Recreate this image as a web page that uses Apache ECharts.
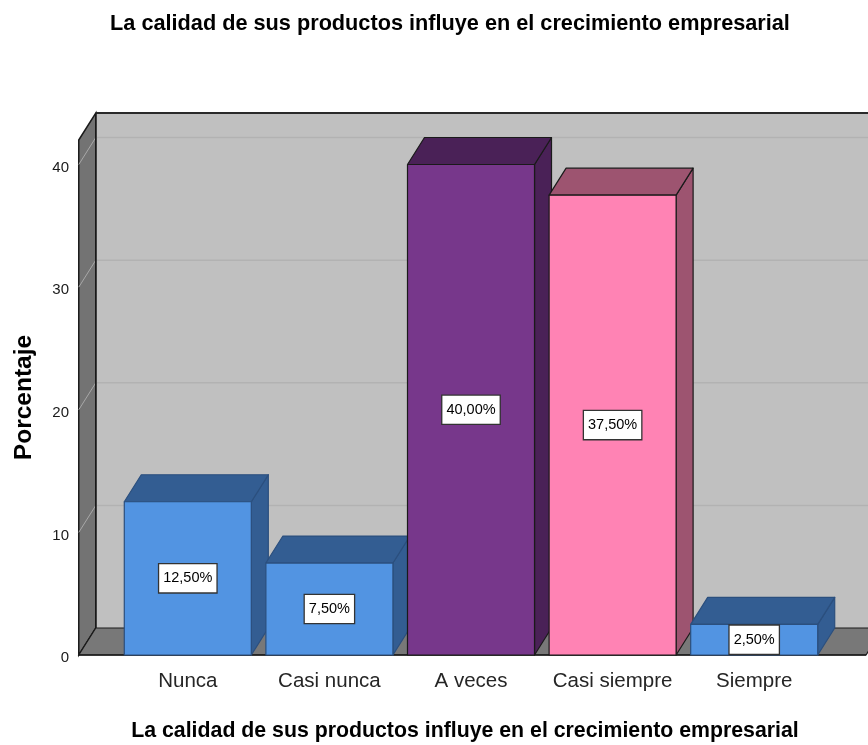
<!DOCTYPE html>
<html>
<head>
<meta charset="utf-8">
<title>La calidad de sus productos influye en el crecimiento empresarial</title>
<script src="https://cdn.jsdelivr.net/npm/echarts@6/dist/echarts.min.js"></script>
<style>
  html, body { margin: 0; padding: 0; background: #fff; }
  #chart { width: 868px; height: 745px; }
</style>
</head>
<body>
<div id="chart"></div>
<script>
// Response categories and the share of answers for each one (%)
const categories = ['Nunca', 'Casi nunca', 'A veces', 'Casi siempre', 'Siempre'];
const percentages = [12.5, 7.5, 40.0, 37.5, 2.5];
const yTickStep = 10;
const yMax = 42;

const chartTitle = 'La calidad de sus productos influye en el crecimiento empresarial';
const xAxisTitle = 'La calidad de sus productos influye en el crecimiento empresarial';
const yAxisTitle = 'Porcentaje';

// Face colours for each bar: front, top/side, outline
const barColors = [
  { front: '#5294e2', shade: '#335d92', edge: '#2b4f7e' },
  { front: '#5294e2', shade: '#335d92', edge: '#2b4f7e' },
  { front: '#77378b', shade: '#4a2157', edge: '#1a1a1a' },
  { front: '#ff83b4', shade: '#9d5470', edge: '#1a1a1a' },
  { front: '#5294e2', shade: '#335d92', edge: '#2b4f7e' }
];

// Pseudo-3D depth offset (pixels) of the back plane relative to the front plane
const DEPTH_X = 17;
const DEPTH_Y = -27;
const BAR_FRACTION = 0.897;   // bar width as part of the category band
const PAD_LEFT = 0.77;        // front plane extends this many bands left of the first centre
const PAD_RIGHT = 0.79;       // and this many bands right of the last centre

const FONT = "'Liberation Sans', Arial, Helvetica, sans-serif";

function fmtPercent(v) {
  return v.toFixed(2).replace('.', ',') + '%';
}

const chart = echarts.init(document.getElementById('chart'), null, { renderer: 'canvas' });

// Walls, floor and gridlines of the 3D frame
function renderFrame(params, api) {
  const band = api.size([1, 0])[0];
  const n = categories.length;
  const x0 = api.coord([0, 0])[0] - band * PAD_LEFT;
  const x1 = api.coord([n - 1, 0])[0] + band * PAD_RIGHT;
  const yBase = api.coord([0, 0])[1];
  const yTop = api.coord([0, yMax])[1];
  const bx0 = x0 + DEPTH_X, bx1 = x1 + DEPTH_X + 40;
  const children = [];

  // back wall
  children.push({
    type: 'rect',
    shape: { x: bx0, y: yTop + DEPTH_Y, width: bx1 - bx0, height: yBase - yTop },
    style: { fill: '#c0c0c0' }
  });
  // gridlines on back and left walls
  for (let v = yTickStep; v < yMax; v += yTickStep) {
    const fy = api.coord([0, v])[1];
    children.push({
      type: 'line',
      shape: { x1: bx0, y1: fy + DEPTH_Y, x2: bx1, y2: fy + DEPTH_Y },
      style: { stroke: '#b2b2b2', lineWidth: 1.5 }
    });
  }
  // left wall
  children.push({
    type: 'polygon',
    shape: { points: [[x0, yTop], [bx0, yTop + DEPTH_Y], [bx0, yBase + DEPTH_Y], [x0, yBase]] },
    style: { fill: '#737373', stroke: '#1a1a1a', lineWidth: 1.5 }
  });
  for (let v = yTickStep; v < yMax; v += yTickStep) {
    const fy = api.coord([0, v])[1];
    children.push({
      type: 'line',
      shape: { x1: x0, y1: fy, x2: bx0, y2: fy + DEPTH_Y },
      style: { stroke: '#a8a8a8', lineWidth: 1 }
    });
  }
  // floor
  children.push({
    type: 'polygon',
    shape: { points: [[x0, yBase], [bx0, yBase + DEPTH_Y], [x1 + DEPTH_X, yBase + DEPTH_Y], [x1, yBase]] },
    style: { fill: '#787878', stroke: '#1a1a1a', lineWidth: 1.2 }
  });
  // back wall top edge and inner corner
  children.push({
    type: 'line',
    shape: { x1: bx0, y1: yTop + DEPTH_Y, x2: bx1, y2: yTop + DEPTH_Y },
    style: { stroke: '#2a2a2a', lineWidth: 2 }
  });
  children.push({
    type: 'line',
    shape: { x1: bx0, y1: yTop + DEPTH_Y, x2: bx0, y2: yBase + DEPTH_Y },
    style: { stroke: '#1a1a1a', lineWidth: 1.5 }
  });
  // front edge of the floor
  children.push({
    type: 'line',
    shape: { x1: x0, y1: yBase, x2: x1, y2: yBase },
    style: { stroke: '#1a1a1a', lineWidth: 1.5 }
  });
  return { type: 'group', children };
}

// One 3D bar: front face, top face, side face and value label
function renderBar(params, api) {
  const idx = api.value(0);
  const val = api.value(1);
  const band = api.size([1, 0])[0];
  const half = band * BAR_FRACTION / 2;
  const c = api.coord([idx, val]);
  const base = api.coord([idx, 0]);
  const xl = c[0] - half, xr = c[0] + half;
  const yt = c[1], yb = base[1];
  const col = barColors[params.dataIndex];
  const edge = { stroke: col.edge, lineWidth: 1.2, lineJoin: 'round' };

  return {
    type: 'group',
    children: [
      {
        type: 'polygon',
        shape: { points: [[xr, yt], [xr + DEPTH_X, yt + DEPTH_Y], [xr + DEPTH_X, yb + DEPTH_Y], [xr, yb]] },
        style: Object.assign({ fill: col.shade }, edge)
      },
      {
        type: 'polygon',
        shape: { points: [[xl, yt], [xl + DEPTH_X, yt + DEPTH_Y], [xr + DEPTH_X, yt + DEPTH_Y], [xr, yt]] },
        style: Object.assign({ fill: col.shade }, edge)
      },
      {
        type: 'rect',
        shape: { x: xl, y: yt, width: xr - xl, height: yb - yt },
        style: Object.assign({ fill: col.front }, edge)
      },
      {
        type: 'text',
        x: c[0],
        y: (yt + yb) / 2,
        style: {
          text: fmtPercent(val),
          fontFamily: FONT,
          fontSize: 14.5,
          fill: '#000',
          align: 'center',
          verticalAlign: 'middle',
          backgroundColor: '#ffffff',
          borderColor: '#333',
          borderWidth: 1.3,
          padding: [7, 4, 6, 4]
        }
      }
    ]
  };
}

const option = {
  animation: false,
  backgroundColor: '#ffffff',
  title: {
    text: chartTitle,
    left: 445,
    textAlign: 'center',
    top: 8,
    textStyle: { fontFamily: FONT, fontSize: 21.7, fontWeight: 'bold', color: '#000' }
  },
  grid: {
    left: 117, right: 43, top: 140, bottom: 90,
    containLabel: false, outerBoundsMode: 'none'
  },
  xAxis: {
    type: 'category',
    data: categories,
    boundaryGap: true,
    axisLine: { show: false },
    axisTick: { show: false },
    splitLine: { show: false },
    axisLabel: {
      fontFamily: FONT, fontSize: 20.5, color: '#262626', margin: 16,
      interval: 0, hideOverlap: false
    },
    name: xAxisTitle,
    nameLocation: 'middle',
    nameGap: 66,
    nameTextStyle: {
      fontFamily: FONT, fontSize: 21.3, fontWeight: 'bold', color: '#000',
      padding: [0, 12, 0, 0]
    }
  },
  yAxis: {
    type: 'value',
    min: 0,
    max: yMax,
    interval: yTickStep,
    offset: 38,
    axisLine: { show: false },
    axisTick: { show: false },
    splitLine: { show: false },
    axisLabel: {
      fontFamily: FONT, fontSize: 15, color: '#1a1a1a', margin: 10,
      showMaxLabel: false, verticalAlign: 'top', lineHeight: 6
    },
    name: yAxisTitle,
    nameLocation: 'middle',
    nameRotate: 90,
    nameGap: 42,
    nameTextStyle: { fontFamily: FONT, fontSize: 24.5, fontWeight: 'bold', color: '#000' }
  },
  series: [
    {
      type: 'custom',
      name: 'frame',
      silent: true,
      z: 1,
      renderItem: renderFrame,
      data: [[0, 0]],
      encode: { x: 0, y: 1 }
    },
    {
      type: 'custom',
      name: yAxisTitle,
      z: 2,
      renderItem: renderBar,
      data: categories.map((c, i) => [i, percentages[i]]),
      encode: { x: 0, y: 1 }
    }
  ]
};

chart.setOption(option);
</script>
</body>
</html>
